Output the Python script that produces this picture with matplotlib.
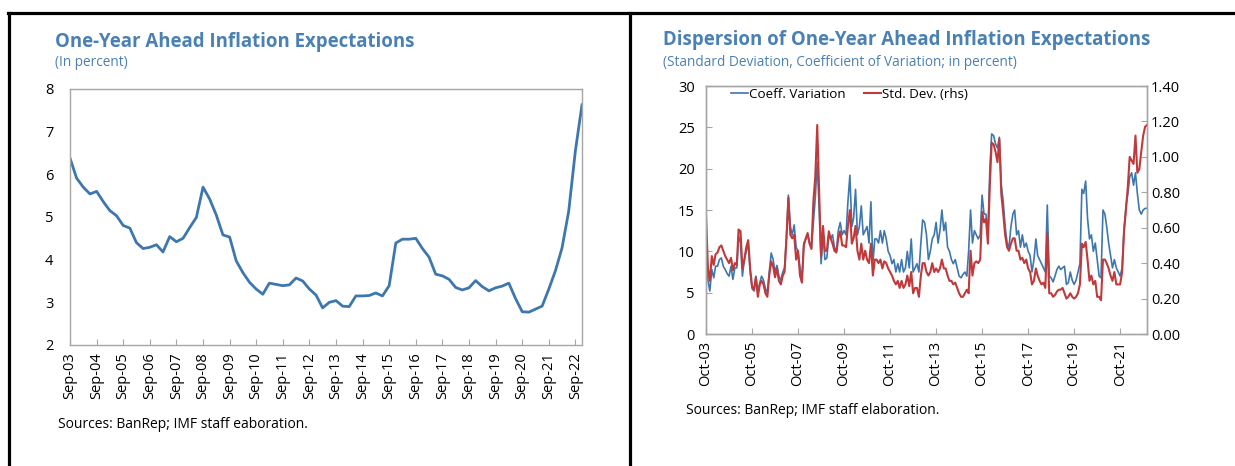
import matplotlib
matplotlib.use("Agg")
import matplotlib.pyplot as plt
import matplotlib.dates as mdates
from matplotlib.lines import Line2D
import pandas as pd

plt.rcParams['font.family'] = ['Open Sans', 'DejaVu Sans']

# one-year ahead inflation expectations, quarterly, Sep-03 .. Dec-22 (percent)
expectations = [
    6.38, 5.91, 5.70, 5.54, 5.60, 5.36, 5.15, 5.03, 4.80, 4.74, 4.40, 4.26,
    4.29, 4.35, 4.18, 4.54, 4.42, 4.50, 4.75, 4.99, 5.70, 5.42, 5.05, 4.58,
    4.53, 3.97, 3.70, 3.47, 3.31, 3.19, 3.45, 3.42, 3.39, 3.41, 3.57, 3.50,
    3.31, 3.17, 2.87, 3.00, 3.04, 2.91, 2.90, 3.15, 3.15, 3.16, 3.22, 3.15,
    3.39, 4.39, 4.48, 4.48, 4.50, 4.26, 4.06, 3.66, 3.62, 3.54, 3.35, 3.29,
    3.34, 3.51, 3.37, 3.27, 3.34, 3.38, 3.45, 3.09, 2.78, 2.77, 2.84, 2.91,
    3.31, 3.74, 4.27, 5.13, 6.55, 7.63,
]

# dispersion of expectations, monthly, Oct-03 .. Dec-22
coeff_variation = [
    11.0, 6.5, 5.2, 7.8, 6.8, 8.2, 8.2, 9.0, 9.2, 8.2, 7.8, 7.3,
    7.0, 8.2, 6.6, 8.0, 8.0, 11.8, 11.0, 7.0, 9.0, 10.0, 11.0, 7.5,
    5.5, 5.2, 7.0, 5.0, 6.2, 7.0, 6.5, 5.5, 5.0, 7.5, 9.8, 9.0,
    7.5, 8.3, 7.0, 6.5, 7.5, 8.0, 12.0, 16.8, 13.0, 12.0, 13.2, 10.5,
    10.0, 8.0, 6.5, 11.0, 11.5, 12.0, 11.0, 10.5, 13.5, 16.5, 20.8, 15.0,
    8.5, 12.0, 9.0, 9.2, 12.0, 11.5, 12.0, 10.5, 10.0, 12.5, 13.5, 12.0,
    12.5, 12.0, 16.0, 19.2, 13.0, 14.0, 17.5, 12.0, 13.0, 15.5, 12.0, 12.5,
    13.0, 11.0, 16.0, 8.5, 11.5, 11.5, 11.0, 12.5, 11.0, 12.5, 11.5, 10.0,
    9.5, 8.5, 9.0, 7.5, 8.5, 7.5, 9.0, 7.5, 8.0, 10.0, 8.0, 11.5,
    7.5, 8.0, 8.5, 7.5, 11.0, 13.8, 13.5, 12.0, 9.0, 10.0, 11.5, 12.0,
    13.5, 11.0, 12.5, 15.0, 12.5, 13.5, 10.5, 10.0, 9.0, 8.5, 9.0, 8.0,
    7.0, 6.8, 7.2, 7.5, 7.0, 10.0, 15.0, 11.0, 12.5, 12.0, 11.5, 12.0,
    16.8, 14.5, 14.5, 12.0, 20.0, 24.2, 24.0, 23.0, 22.5, 23.8, 18.0, 16.0,
    13.0, 11.0, 10.5, 13.0, 14.5, 15.0, 12.0, 12.5, 10.5, 12.0, 10.5, 11.0,
    10.0, 9.5, 7.5, 9.0, 11.5, 9.5, 9.0, 8.5, 8.0, 7.5, 15.6, 7.0,
    6.8, 6.3, 7.0, 7.8, 8.2, 7.8, 8.0, 8.2, 6.0, 6.2, 7.5, 6.5,
    6.0, 6.5, 7.5, 8.5, 17.5, 17.0, 18.5, 14.0, 11.5, 12.0, 10.0, 11.0,
    9.0, 7.0, 6.8, 15.0, 14.5, 13.0, 11.0, 9.5, 8.0, 9.0, 8.0, 7.5,
    7.0, 8.0, 12.5, 15.5, 17.0, 19.0, 19.5, 18.0, 19.5, 17.0, 15.0, 14.5,
    15.0, 15.2, 15.2,
]

std_dev = [
    0.67, 0.37, 0.30, 0.44, 0.39, 0.45, 0.46, 0.49, 0.50, 0.47, 0.44, 0.42,
    0.40, 0.43, 0.36, 0.40, 0.39, 0.59, 0.58, 0.37, 0.42, 0.49, 0.53, 0.37,
    0.27, 0.25, 0.32, 0.21, 0.28, 0.30, 0.28, 0.23, 0.21, 0.33, 0.41, 0.38,
    0.32, 0.37, 0.30, 0.28, 0.33, 0.35, 0.54, 0.77, 0.56, 0.54, 0.56, 0.42,
    0.47, 0.33, 0.29, 0.50, 0.54, 0.57, 0.51, 0.48, 0.75, 0.89, 1.18, 0.79,
    0.44, 0.61, 0.47, 0.47, 0.58, 0.54, 0.51, 0.47, 0.46, 0.54, 0.58, 0.50,
    0.50, 0.49, 0.61, 0.70, 0.51, 0.54, 0.61, 0.47, 0.42, 0.51, 0.42, 0.47,
    0.42, 0.40, 0.51, 0.33, 0.42, 0.42, 0.40, 0.42, 0.37, 0.41, 0.40, 0.37,
    0.35, 0.33, 0.30, 0.28, 0.30, 0.26, 0.30, 0.26, 0.28, 0.33, 0.27, 0.35,
    0.23, 0.26, 0.26, 0.21, 0.33, 0.40, 0.40, 0.35, 0.33, 0.35, 0.40, 0.35,
    0.37, 0.35, 0.37, 0.42, 0.37, 0.37, 0.33, 0.30, 0.30, 0.28, 0.29, 0.26,
    0.23, 0.21, 0.21, 0.23, 0.25, 0.23, 0.47, 0.33, 0.40, 0.41, 0.40, 0.42,
    0.69, 0.63, 0.65, 0.51, 0.84, 1.08, 1.07, 1.03, 0.97, 1.10, 0.79, 0.68,
    0.56, 0.49, 0.47, 0.51, 0.54, 0.54, 0.47, 0.47, 0.42, 0.43, 0.40, 0.42,
    0.37, 0.35, 0.28, 0.30, 0.37, 0.33, 0.30, 0.28, 0.29, 0.26, 0.57, 0.23,
    0.23, 0.21, 0.22, 0.24, 0.25, 0.25, 0.26, 0.23, 0.20, 0.21, 0.23, 0.21,
    0.20, 0.21, 0.23, 0.28, 0.51, 0.49, 0.52, 0.42, 0.30, 0.33, 0.28, 0.30,
    0.21, 0.21, 0.19, 0.42, 0.42, 0.40, 0.37, 0.33, 0.30, 0.35, 0.28, 0.28,
    0.28, 0.35, 0.58, 0.70, 0.84, 1.00, 0.98, 0.96, 1.12, 0.91, 0.93, 1.03,
    1.12, 1.17, 1.18,
]

q_dates = pd.date_range('2003-09-01', periods=len(expectations), freq='3MS')
m_dates = pd.date_range('2003-10-01', periods=len(coeff_variation), freq='MS')
left_ticks = pd.date_range('2003-09-01', '2022-09-01', freq='12MS')
right_ticks = pd.date_range('2003-10-01', '2021-10-01', freq='24MS')

TITLE = '#4A80B3'
BLUE = '#3E77AE'
RED = '#C0393B'
SPINE = '#A6A6A6'

fig = plt.figure(figsize=(12.35, 4.66), dpi=100)

# panel frame
for xs, ys in [([8 / 1235, 1.0], [1 - 13 / 466] * 2),
               ([9 / 1235] * 2, [0, 1 - 13 / 466]),
               ([630 / 1235] * 2, [0, 1 - 13 / 466])]:
    fig.add_artist(Line2D(xs, ys, transform=fig.transFigure, color='black', lw=2.3))


def style(ax):
    for s in ax.spines.values():
        s.set_color(SPINE)
        s.set_linewidth(1.0)
    ax.tick_params(labelsize=10.5, colors=SPINE, labelcolor='black')


# left panel
ax1 = fig.add_axes([70 / 1235, 1 - 345 / 466, 512 / 1235, 256 / 466])
ax1.plot(q_dates, expectations, color=BLUE, lw=2.0)
ax1.set_xlim(q_dates[0], q_dates[-1])
ax1.set_ylim(2, 8)
ax1.set_xticks(left_ticks)
ax1.xaxis.set_major_formatter(mdates.DateFormatter('%b-%y'))
style(ax1)
ax1.tick_params(axis='x', direction='in', length=4, rotation=90, pad=5)
ax1.tick_params(axis='y', length=0, pad=12)

fig.text(55 / 1235, 1 - 42 / 466, 'One-Year Ahead Inflation Expectations',
         color=TITLE, fontsize=13.4, fontweight='bold', va='center')
fig.text(55 / 1235, 1 - 63 / 466, '(In percent)', color=TITLE, fontsize=9.8, va='center')
fig.text(58 / 1235, 1 - 425 / 466, 'Sources: BanRep; IMF staff eaboration.',
         fontsize=10, va='center')

# right panel
ax2 = fig.add_axes([706 / 1235, 1 - 334 / 466, 441 / 1235, 248 / 466])
l1, = ax2.plot(m_dates, coeff_variation, color=BLUE, lw=1.2, label='Coeff. Variation')
ax2.set_ylim(0, 30)
ax2.set_yticks(range(0, 31, 5))
ax2.set_xlim(m_dates[0], m_dates[-1])
ax2.set_xticks(right_ticks)
ax2.xaxis.set_major_formatter(mdates.DateFormatter('%b-%y'))
style(ax2)
ax2.tick_params(axis='x', direction='in', length=4, rotation=90, pad=5)
ax2.tick_params(axis='y', direction='in', length=4, pad=8)

ax3 = ax2.twinx()
l2, = ax3.plot(m_dates, std_dev, color=RED, lw=1.5, label='Std. Dev. (rhs)')
ax3.set_ylim(0, 1.4)
ax3.set_yticks([0, 0.2, 0.4, 0.6, 0.8, 1.0, 1.2, 1.4])
ax3.set_yticklabels([f'{v:.2f}' for v in ax3.get_yticks()])
style(ax3)
ax3.tick_params(axis='y', direction='in', length=4, pad=3)

ax2.legend(handles=[l1, l2], loc='upper left', ncol=2, frameon=False,
           fontsize=9.6, handlelength=1.25, handletextpad=0.1, columnspacing=1.4,
           borderaxespad=0.0, bbox_to_anchor=(0.045, 1.015))

fig.text(663 / 1235, 1 - 40 / 466, 'Dispersion of One-Year Ahead Inflation Expectations',
         color=TITLE, fontsize=13.4, fontweight='bold', va='center')
fig.text(663 / 1235, 1 - 62 / 466,
         '(Standard Deviation, Coefficient of Variation; in percent)',
         color=TITLE, fontsize=9.8, va='center')
fig.text(686 / 1235, 1 - 410 / 466, 'Sources: BanRep; IMF staff elaboration.',
         fontsize=10, va='center')

fig.savefig('out.png', dpi=100)
